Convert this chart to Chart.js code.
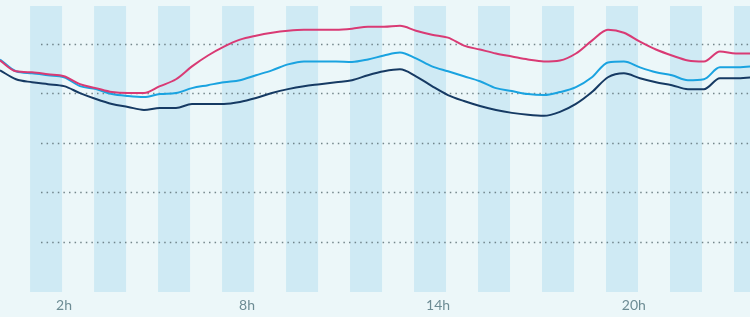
<!DOCTYPE html>
<html>
<head>
<meta charset="utf-8">
<script src="https://cdn.jsdelivr.net/npm/chart.js@4/dist/chart.umd.min.js"></script>
<style>
  html,body{margin:0;padding:0;background:#ecf7f9;}
  #wrap{width:750px;height:317px;position:relative;}
</style>
</head>
<body>
<div id="wrap"><canvas id="chart" width="750" height="317"></canvas></div>
<script>
// half-hour steps, 0h .. 23.5h
const hours = Array.from({length:48}, (_, i) => i * 0.5);

const pinkSeries = [23.3,22.2,22.1,21.9,21.7,20.9,20.5,20.1,20.0,20.0,20.7,21.4,22.7,23.8,24.7,25.4,
  25.8,26.1,26.3,26.4,26.4,26.4,26.5,26.7,26.7,26.8,26.3,25.9,25.6,24.8,24.4,24.0,
  23.7,23.4,23.2,23.3,24.0,25.3,26.4,26.1,25.2,24.4,23.8,23.3,23.2,24.2,24.0,24.0];
const blueSeries = [23.4,22.2,22.0,21.8,21.6,20.7,20.4,19.9,19.7,19.6,19.9,20.0,20.5,20.8,21.1,21.3,
  21.8,22.3,22.9,23.2,23.2,23.2,23.15,23.4,23.8,24.1,23.5,22.7,22.2,21.7,21.2,20.5,
  20.2,19.9,19.8,20.1,20.6,21.6,23.1,23.2,22.6,22.1,21.8,21.3,21.4,22.6,22.6,22.7];
const navySeries = [22.3,21.4,21.1,20.9,20.7,20.0,19.4,18.9,18.6,18.3,18.5,18.5,18.9,18.9,18.9,19.1,
  19.5,20.0,20.4,20.7,20.9,21.1,21.3,21.8,22.2,22.4,21.7,20.7,19.8,19.2,18.7,18.3,
  18.0,17.8,17.7,18.1,18.9,20.1,21.6,22.0,21.5,21.1,20.8,20.4,20.4,21.5,21.5,21.6];

const tickHours = [2, 7.72, 13.69, 19.81];
const tickLabels = ['2h', '8h', '14h', '20h'];
const gridValues = [5, 10, 15, 20, 25];

const toPoints = arr => arr.map((v, i) => ({x: hours[i], y: v}));

// alternating hour bands behind everything
const bands = {
  id:'bands',
  beforeDatasetsDraw(chart){
    const {ctx, chartArea:a, scales:{x, y}} = chart;
    ctx.save();
    ctx.fillStyle = '#cfeaf4';
    for(let h = 1; h < 24; h += 2){
      const l = Math.max(x.getPixelForValue(h - 0.06), a.left);
      const r = Math.min(x.getPixelForValue(h + 1 - 0.06), a.right);
      if(r > l) ctx.fillRect(l, a.top, r - l, a.bottom - a.top + 1);
    }
    ctx.strokeStyle = 'rgba(95,115,120,0.85)';
    ctx.lineWidth = 1.5;
    ctx.setLineDash([1.5, 4.1]);
    gridValues.forEach(v => {
      const py = Math.round(y.getPixelForValue(v)) + 0.5;
      ctx.beginPath();
      ctx.moveTo(a.left + 41, py);
      ctx.lineTo(a.right, py);
      ctx.stroke();
    });
    ctx.restore();
  }
};

const line = (data, color) => ({
  data: toPoints(data), borderColor: color, borderWidth: 2,
  pointRadius: 0, tension: 0.4, cubicInterpolationMode: 'monotone', fill: false
});

new Chart(document.getElementById('chart'), {
  type: 'line',
  data: { datasets: [
    line(pinkSeries, '#d93a74'),
    line(blueSeries, '#1aa3e0'),
    line(navySeries, '#163a63')
  ]},
  options: {
    responsive: false,
    animation: false,
    layout: { padding: { top: 6, left: 0, right: 0, bottom: 0 } },
    plugins: { legend: { display: false }, tooltip: { enabled: false } },
    scales: {
      x: {
        type: 'linear', min: 0, max: 23.44,
        afterBuildTicks: s => { s.ticks = tickHours.map(v => ({value: v})); },
        afterFit: s => { s.height = 26; },
        grid: { display: false, drawTicks: false },
        border: { display: false },
        ticks: {
          padding: 6, maxRotation: 0, autoSkip: false,
          color: '#6d8c94',
          font: { family: 'Lato', size: 14 },
          callback: (v, i) => tickLabels[i]
        }
      },
      y: {
        display: false, min: 0, max: 28.8
      }
    }
  },
  plugins: [bands]
});
</script>
</body>
</html>
